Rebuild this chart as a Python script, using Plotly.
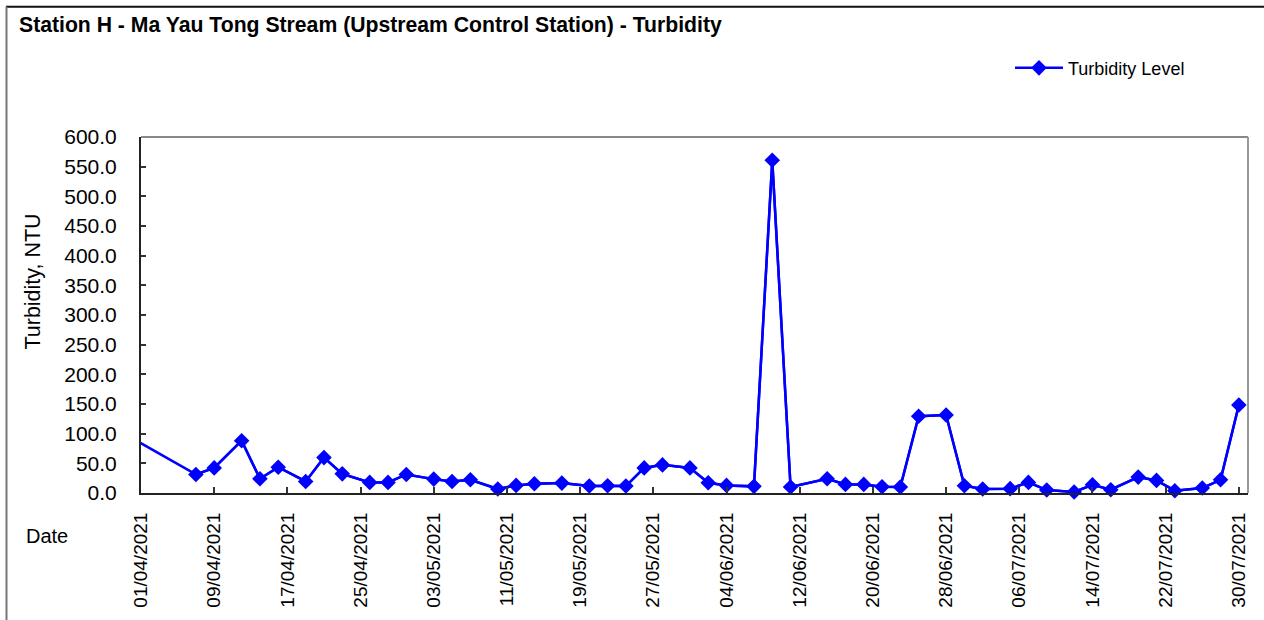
import plotly.graph_objects as go

# ---- data ----
dates = ["2021-03-29", "2021-04-07", "2021-04-09", "2021-04-12", "2021-04-14", "2021-04-16",
         "2021-04-19", "2021-04-21", "2021-04-23", "2021-04-26", "2021-04-28", "2021-04-30",
         "2021-05-03", "2021-05-05", "2021-05-07", "2021-05-10", "2021-05-12", "2021-05-14",
         "2021-05-17", "2021-05-20", "2021-05-22", "2021-05-24", "2021-05-26", "2021-05-28",
         "2021-05-31", "2021-06-02", "2021-06-04", "2021-06-07", "2021-06-09", "2021-06-11",
         "2021-06-15", "2021-06-17", "2021-06-19", "2021-06-21", "2021-06-23", "2021-06-25",
         "2021-06-28", "2021-06-30", "2021-07-02", "2021-07-05", "2021-07-07", "2021-07-09",
         "2021-07-12", "2021-07-14", "2021-07-16", "2021-07-19", "2021-07-21", "2021-07-23",
         "2021-07-26", "2021-07-28", "2021-07-30"]
turbidity = [110.0, 31.3, 42.3, 88.1, 24.0, 43.5,
             19.5, 59.7, 32.3, 17.9, 17.9, 31.3,
             23.4, 19.5, 22.3, 6.7, 12.8, 15.6,
             16.7, 11.7, 12.3, 11.7, 42.3, 47.4,
             42.3, 17.3, 12.8, 11.2, 560.7, 10.0,
             24.0, 14.5, 14.5, 10.6, 10.0, 129.3,
             131.5, 12.3, 6.7, 7.3, 17.9, 5.0,
             1.7, 13.9, 5.6, 26.8, 21.2, 3.9,
             8.4, 22.3, 148.3]
x_range = ["2021-04-01", "2021-07-31"]
tick_start = "2021-04-01"
tick_days = 8
y_range = [0, 600]
y_step = 50
series_name = "Turbidity Level"
title_text = "Station H - Ma Yau Tong Stream (Upstream Control Station) - Turbidity"
y_title = "Turbidity, NTU"
x_title = "Date"

# ---- layout geometry (pixels) ----
W, H = 1264, 620
L, R, T, B = 141, 1248, 137, 499


def px_x(p):
    return (p - L) / (R - L)


def px_y(p):
    return (B - p) / (B - T)


FONT = "Liberation Sans, Arial, sans-serif"
BLUE = "#0000FF"

fig = go.Figure()
# full line (includes point before the visible range, clipped by the axis)
fig.add_trace(go.Scatter(x=dates, y=turbidity, mode="lines",
                         line=dict(color=BLUE, width=2.5), showlegend=False,
                         hoverinfo="skip"))
# visible points with markers
fig.add_trace(go.Scatter(x=dates[1:], y=turbidity[1:], mode="lines+markers",
                         name=series_name,
                         line=dict(color=BLUE, width=2.5),
                         marker=dict(symbol="diamond", size=12, color=BLUE),
                         cliponaxis=False))

fig.update_layout(
    width=W, height=H,
    margin=dict(l=L, r=W - R, t=T, b=H - B, pad=0),
    paper_bgcolor="white", plot_bgcolor="white",
    font=dict(family=FONT, size=20, color="black"),
    showlegend=True,
    legend=dict(x=px_x(1010), y=px_y(67), xanchor="left", yanchor="middle",
                font=dict(size=18), bgcolor="rgba(0,0,0,0)", borderwidth=0,
                itemwidth=48),
)

fig.update_xaxes(
    type="date", range=x_range, tick0=tick_start, dtick=tick_days * 86400000,
    tickformat="%d/%m/%Y", tickangle=-90, ticks="inside", ticklen=6,
    tickcolor="#333", tickwidth=1.5,
    showline=True, linecolor="#222", linewidth=2, showgrid=False, zeroline=False,
    ticklabelstandoff=10, tickfont=dict(size=19),
)
fig.update_yaxes(
    range=y_range, dtick=y_step, tick0=0, tickformat=".1f", ticks="inside",
    ticklen=5, tickcolor="#333", tickwidth=1.5,
    showline=True, linecolor="#222", linewidth=2, showgrid=False, zeroline=False,
    ticklabelstandoff=18, tickfont=dict(size=21),
)

# plot-area border (top and right, grey)
fig.add_shape(type="line", xref="paper", yref="paper", x0=0, x1=1, y0=1, y1=1,
              line=dict(color="#888", width=2))
fig.add_shape(type="line", xref="paper", yref="paper", x0=1, x1=1, y0=0, y1=1,
              line=dict(color="#999", width=2))
# outer chart border (top and left)
fig.add_shape(type="line", xref="paper", yref="paper", x0=px_x(6), x1=px_x(1270),
              y0=px_y(4.5), y1=px_y(4.5), line=dict(color="#111", width=2))
fig.add_shape(type="line", xref="paper", yref="paper", x0=px_x(6.5), x1=px_x(6.5),
              y0=px_y(4.5), y1=px_y(630), line=dict(color="#777", width=2))

# title
fig.add_annotation(text="<b>" + title_text + "</b>", xref="paper", yref="paper",
                   x=px_x(17), y=px_y(23), xanchor="left", yanchor="middle",
                   showarrow=False, font=dict(size=21.2, family=FONT))
# y axis title
fig.add_annotation(text=y_title, xref="paper", yref="paper", x=px_x(33), y=px_y(284),
                   xanchor="center", yanchor="middle", textangle=-90,
                   showarrow=False, font=dict(size=21.5, family=FONT))
# x axis title
fig.add_annotation(text=x_title, xref="paper", yref="paper", x=px_x(24), y=px_y(543),
                   xanchor="left", yanchor="middle",
                   showarrow=False, font=dict(size=20, family=FONT))

fig.write_html("out.html", config={"displayModeBar": False},
               post_script="document.body.style.margin='0';")
